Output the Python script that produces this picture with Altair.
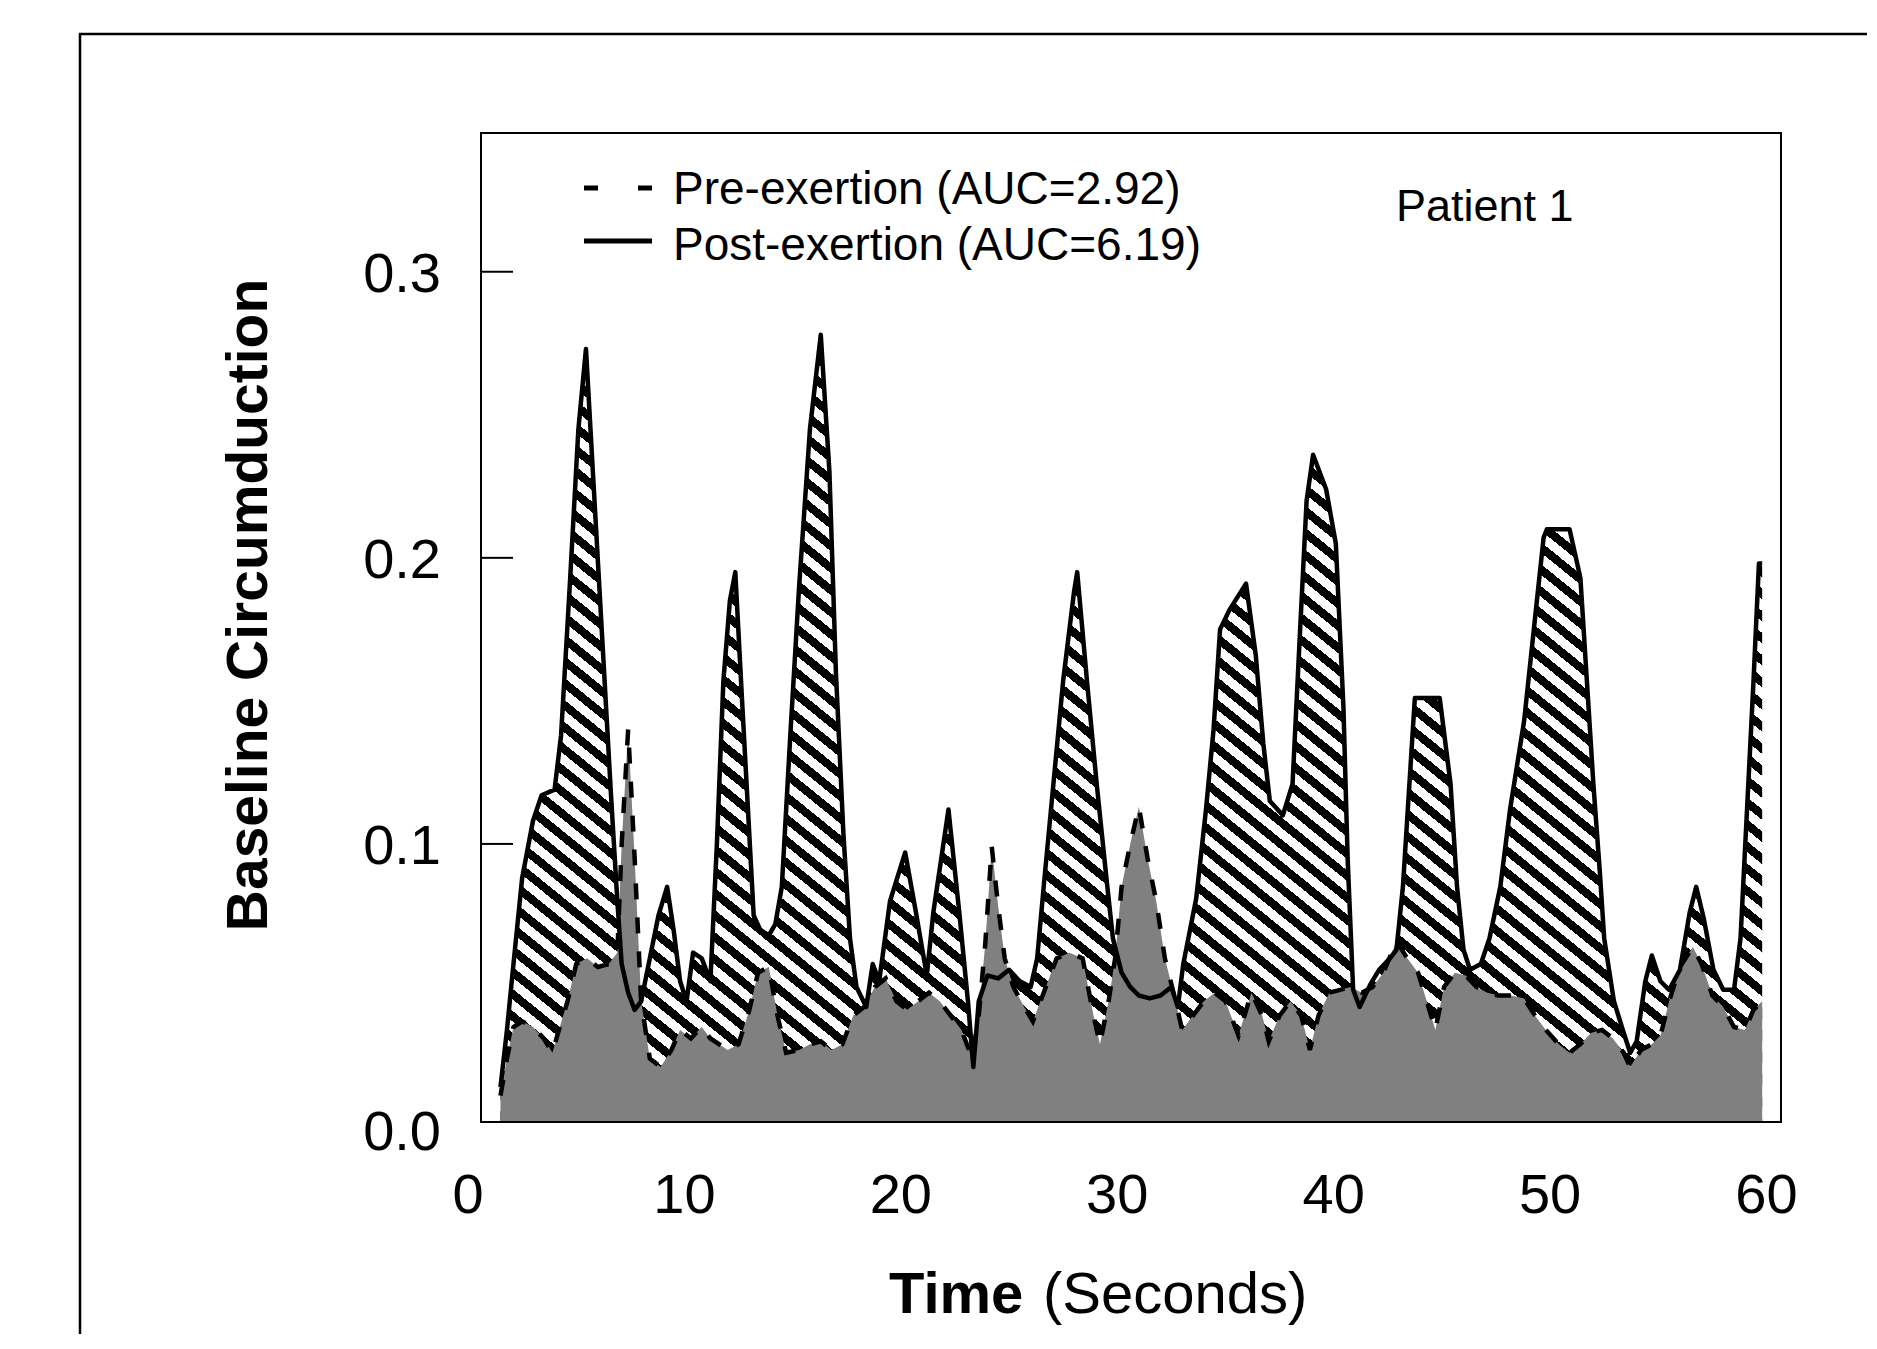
import math
import altair as alt
import pandas as pd

# ---------------- data ----------------
post_t = [1.5, 1.8, 2.1, 2.5, 3.0, 3.4, 4.0, 4.3, 4.7, 5.1, 5.45, 5.8, 6.2, 6.6, 6.9, 7.1,
          7.4, 7.7, 8.0, 8.4, 8.8, 9.2, 9.5, 9.8, 10.1, 10.4, 10.8, 11.2, 11.5, 11.8, 12.1,
          12.35, 12.7, 13.0, 13.2, 13.5, 13.9, 14.2, 14.5, 14.9, 15.3, 15.8, 16.3, 16.7,
          17.0, 17.35, 17.65, 17.95, 18.4, 18.7, 19.0, 19.5, 20.2, 20.7, 21.2, 21.5, 22.2,
          22.7, 23.1, 23.35, 23.6, 24.0, 24.5, 25.0, 25.5, 26.0, 26.3, 26.6, 27.05, 27.5,
          28.0, 28.15, 28.6, 29.05, 29.5, 29.8, 30.2, 30.6, 31.0, 31.5, 32.0, 32.5, 32.8,
          33.05, 33.65, 34.1, 34.45, 34.75, 35.2, 35.95, 36.4, 36.75, 37.05, 37.65, 38.1,
          38.45, 38.75, 39.05, 39.65, 40.1, 40.45, 40.65, 40.9, 41.2, 41.7, 42.1, 42.6,
          42.9, 43.2, 43.5, 43.75, 44.9, 45.4, 45.7, 46.0, 46.3, 46.8, 47.2, 47.7, 48.15,
          48.8, 49.25, 49.7, 49.85, 50.9, 51.4, 51.7, 52.0, 52.3, 52.5, 52.95, 53.4, 53.7,
          54.0, 54.4, 54.7, 55.1, 55.5, 56.0, 56.45, 56.75, 57.1, 57.55, 58.0, 58.5, 58.8,
          59.1, 59.4, 59.65, 59.8]
post_v = [0.015, 0.035, 0.058, 0.088, 0.108, 0.117, 0.119, 0.138, 0.19, 0.245, 0.273, 0.226,
          0.172, 0.118, 0.08, 0.058, 0.048, 0.042, 0.045, 0.06, 0.075, 0.085, 0.07, 0.052,
          0.045, 0.062, 0.06, 0.052, 0.1, 0.157, 0.185, 0.195, 0.145, 0.103, 0.075, 0.07,
          0.068, 0.072, 0.085, 0.139, 0.19, 0.245, 0.278, 0.23, 0.16, 0.103, 0.067, 0.05,
          0.043, 0.058, 0.052, 0.08, 0.097, 0.076, 0.054, 0.076, 0.112, 0.076, 0.045, 0.022,
          0.045, 0.054, 0.053, 0.056, 0.052, 0.05, 0.06, 0.085, 0.121, 0.157, 0.188, 0.195,
          0.157, 0.121, 0.088, 0.067, 0.055, 0.05, 0.047, 0.046, 0.047, 0.05, 0.043, 0.058,
          0.081, 0.112, 0.14, 0.175, 0.182, 0.191, 0.166, 0.135, 0.115, 0.11, 0.121, 0.175,
          0.22, 0.236, 0.224, 0.205, 0.148, 0.094, 0.049, 0.043, 0.051, 0.056, 0.06, 0.063,
          0.085, 0.121, 0.151, 0.151, 0.121, 0.085, 0.063, 0.056, 0.058, 0.067, 0.085, 0.112,
          0.143, 0.175, 0.207, 0.21, 0.21, 0.193, 0.157, 0.121, 0.09, 0.067, 0.045, 0.034,
          0.027, 0.031, 0.052, 0.061, 0.052, 0.049, 0.056, 0.076, 0.085, 0.074, 0.056, 0.049,
          0.049, 0.067, 0.112, 0.157, 0.198, 0.198]

pre_t = [1.5, 1.8, 2.1, 2.5, 3.0, 3.5, 3.9, 4.2, 4.6, 5.0, 5.5, 6.0, 6.5, 6.9, 7.1, 7.4, 7.7,
         8.0, 8.4, 8.9, 9.4, 9.8, 10.3, 10.8, 11.2, 11.6, 12.0, 12.5, 13.0, 13.4, 13.9, 14.3,
         14.7, 15.3, 15.8, 16.3, 16.8, 17.3, 17.8, 18.3, 18.8, 19.3, 19.8, 20.3, 20.8, 21.3,
         21.8, 22.3, 22.8, 23.3, 23.6, 23.9, 24.2, 24.5, 24.8, 25.2, 25.7, 26.1, 26.6, 27.2,
         27.8, 28.4, 28.9, 29.2, 29.6, 29.9, 30.2, 30.6, 31.0, 31.4, 31.8, 32.2, 32.6, 33.0,
         33.5, 34.0, 34.5, 35.0, 35.6, 36.2, 36.7, 37.0, 37.5, 38.0, 38.5, 38.9, 39.3, 39.8,
         40.3, 40.8, 41.3, 41.8, 42.3, 42.9, 43.4, 43.9, 44.3, 44.7, 45.1, 45.6, 46.1, 46.6,
         47.1, 47.6, 48.2, 48.8, 49.3, 49.8, 50.4, 50.9, 51.4, 51.9, 52.4, 52.9, 53.4, 53.7,
         54.2, 54.7, 55.1, 55.5, 56.0, 56.6, 57.0, 57.5, 58.0, 58.5, 59.0, 59.4, 59.8]
pre_v = [0.012, 0.025, 0.036, 0.038, 0.036, 0.032, 0.027, 0.035, 0.045, 0.058, 0.06, 0.057,
         0.058, 0.062, 0.1, 0.14, 0.095, 0.045, 0.025, 0.022, 0.028, 0.035, 0.032, 0.036,
         0.032, 0.03, 0.028, 0.03, 0.042, 0.055, 0.057, 0.04, 0.027, 0.028, 0.03, 0.031,
         0.028, 0.03, 0.04, 0.043, 0.05, 0.053, 0.045, 0.042, 0.045, 0.048, 0.045, 0.04,
         0.035, 0.025, 0.04, 0.065, 0.099, 0.078, 0.06, 0.05, 0.043, 0.038, 0.048, 0.06,
         0.062, 0.06, 0.04, 0.03, 0.045, 0.06, 0.085, 0.1, 0.113, 0.095, 0.08, 0.06, 0.048,
         0.035, 0.04, 0.045, 0.048, 0.045, 0.033, 0.048, 0.04, 0.031, 0.04, 0.045, 0.04,
         0.028, 0.04, 0.048, 0.049, 0.05, 0.048, 0.05, 0.055, 0.066, 0.06, 0.055, 0.045,
         0.035, 0.05, 0.055, 0.054, 0.05, 0.048, 0.047, 0.047, 0.046, 0.04, 0.035, 0.03,
         0.027, 0.03, 0.034, 0.035, 0.032, 0.027, 0.022, 0.028, 0.03, 0.033, 0.045, 0.057,
         0.064, 0.058, 0.047, 0.043, 0.036, 0.035, 0.042, 0.045]

x_label_values = [0, 10, 20, 30, 40, 50, 60]
y_label_values = [0.0, 0.1, 0.2, 0.3]
y_label_text = ["0.0", "0.1", "0.2", "0.3"]
y_tick_values = [0.1, 0.2, 0.3]
legend_pre = ["Pre-exertion (AUC=2.92)"]
legend_post = ["Post-exertion (AUC=6.19)"]
panel_label = ["Patient 1"]
x_title_bold = ["Time"]
x_title_rest = ["(Seconds)"]
y_title = ["Baseline Circumduction"]

# ---------------- geometry / style ----------------
FONT = "Liberation Sans"
W, H = 1300, 989
X_DOMAIN = [0.6, 60.67]
Y_DOMAIN = [0.0028, 0.3485]

xs = alt.Scale(domain=X_DOMAIN, nice=False, zero=False)
ys = alt.Scale(domain=Y_DOMAIN, nice=False, zero=False)


def px(t):
    return (t - X_DOMAIN[0]) / (X_DOMAIN[1] - X_DOMAIN[0]) * W


def py(v):
    return (Y_DOMAIN[1] - v) / (Y_DOMAIN[1] - Y_DOMAIN[0]) * H


# hatch drawn as a striped linear gradient over the area's bounding box
bw = px(max(post_t)) - px(min(post_t))
bh = py(Y_DOMAIN[0]) - py(max(post_v))
theta = math.radians(39)
nx, ny = math.sin(theta), -math.cos(theta)
corners = [(0, 0), (bw, 0), (0, bh), (bw, bh)]
proj = [c[0] * nx + c[1] * ny for c in corners]
i_min = proj.index(min(proj))
L = max(proj) - min(proj)
alpha = L / (nx * nx * bw * bw + ny * ny * bh * bh)
gx, gy = alpha * nx * bw, alpha * ny * bh
u1x, u1y = corners[i_min][0] / bw, corners[i_min][1] / bh
period = 17.0
black_frac = 0.48
n_str = int(L / period)
stops = []
for i in range(n_str):
    a = i / n_str
    b = (i + black_frac) / n_str
    c = (i + 1) / n_str
    stops += [{"offset": round(a, 5), "color": "black"},
              {"offset": round(b, 5), "color": "black"},
              {"offset": round(b, 5), "color": "white"},
              {"offset": round(c, 5), "color": "white"}]
hatch_fill = {"gradient": "linear", "stops": stops,
              "x1": round(u1x, 5), "y1": round(u1y, 5),
              "x2": round(u1x + gx, 5), "y2": round(u1y + gy, 5)}

post_df = pd.DataFrame({"t": post_t, "v": post_v, "base": Y_DOMAIN[0]})
pre_df = pd.DataFrame({"t": pre_t, "v": pre_v, "base": Y_DOMAIN[0]})

X = alt.X("t:Q", scale=xs, axis=None)
Y = alt.Y("v:Q", scale=ys, axis=None)
one = pd.DataFrame({"a": [0]})

outer = alt.Chart(one).mark_rect(filled=False, stroke="black", strokeWidth=2.5).encode(
    x=alt.value(-401), x2=alt.value(3000), y=alt.value(-99), y2=alt.value(3000))

hatch = alt.Chart(post_df).mark_area(color=hatch_fill).encode(x=X, y=Y, y2="base:Q")
gray = alt.Chart(pre_df).mark_area(color="#808080").encode(x=X, y=Y, y2="base:Q")
post_line = alt.Chart(post_df).mark_line(color="black", strokeWidth=4.5, strokeJoin="round").encode(x=X, y=Y)
pre_line = alt.Chart(pre_df).mark_line(color="black", strokeWidth=4.5, strokeDash=[16, 18]).encode(x=X, y=Y)

frame = alt.Chart(one).mark_rect(filled=False, stroke="black", strokeWidth=2).encode(
    x=alt.value(0), x2=alt.value(W), y=alt.value(0), y2=alt.value(H))

yticks = alt.Chart(pd.DataFrame({"v": y_tick_values})).mark_rule(color="black", strokeWidth=2).encode(
    y=Y, x=alt.value(0), x2=alt.value(32))

ylabels = alt.Chart(pd.DataFrame({"v": y_label_values, "lab": y_label_text})).mark_text(
    align="right", baseline="middle", dy=3, font=FONT, fontSize=56, color="black").encode(
    y=Y, x=alt.value(-40), text="lab:N")

xlabels = alt.Chart(pd.DataFrame({"t": x_label_values, "lab": [str(v) for v in x_label_values]})).mark_text(
    align="center", baseline="middle", font=FONT, fontSize=56, color="black").encode(
    x=X, y=alt.value(1063), text="lab:N")

ytitle = alt.Chart(pd.DataFrame({"s": y_title})).mark_text(
    angle=270, align="center", baseline="middle", font=FONT, fontSize=57, fontWeight="bold",
    color="black").encode(x=alt.value(-231), y=alt.value(472), text="s:N")

xtitle1 = alt.Chart(pd.DataFrame({"s": x_title_bold})).mark_text(
    align="left", baseline="middle", font=FONT, fontSize=58, fontWeight="bold", color="black").encode(
    x=alt.value(408), y=alt.value(1163), text="s:N")
xtitle2 = alt.Chart(pd.DataFrame({"s": x_title_rest})).mark_text(
    align="left", baseline="middle", font=FONT, fontSize=58, color="black").encode(
    x=alt.value(562), y=alt.value(1163), text="s:N")

leg_dash = alt.Chart(one).mark_rule(color="black", strokeWidth=5, strokeDash=[14, 40]).encode(
    x=alt.value(103), x2=alt.value(171), y=alt.value(55))
leg_solid = alt.Chart(one).mark_rule(color="black", strokeWidth=5).encode(
    x=alt.value(103), x2=alt.value(171), y=alt.value(108))
leg_text1 = alt.Chart(pd.DataFrame({"s": legend_pre})).mark_text(
    align="left", baseline="middle", font=FONT, fontSize=46, color="black").encode(
    x=alt.value(192), y=alt.value(57), text="s:N")
leg_text2 = alt.Chart(pd.DataFrame({"s": legend_post})).mark_text(
    align="left", baseline="middle", font=FONT, fontSize=46, color="black").encode(
    x=alt.value(192), y=alt.value(113), text="s:N")

patient = alt.Chart(pd.DataFrame({"s": panel_label})).mark_text(
    align="left", baseline="middle", font=FONT, fontSize=45, color="black").encode(
    x=alt.value(915), y=alt.value(74), text="s:N")

chart = alt.layer(
    outer, hatch, gray, post_line, pre_line, frame, yticks, ylabels, xlabels,
    ytitle, xtitle1, xtitle2, leg_dash, leg_solid, leg_text1, leg_text2, patient
).properties(
    width=W, height=H,
    padding={"left": 473, "top": 125, "right": 86, "bottom": 212},
    autosize=alt.AutoSizeParams(type="none"),
).configure_view(strokeWidth=0)

chart.save("out.html", embed_options={"renderer": "svg", "actions": False})
